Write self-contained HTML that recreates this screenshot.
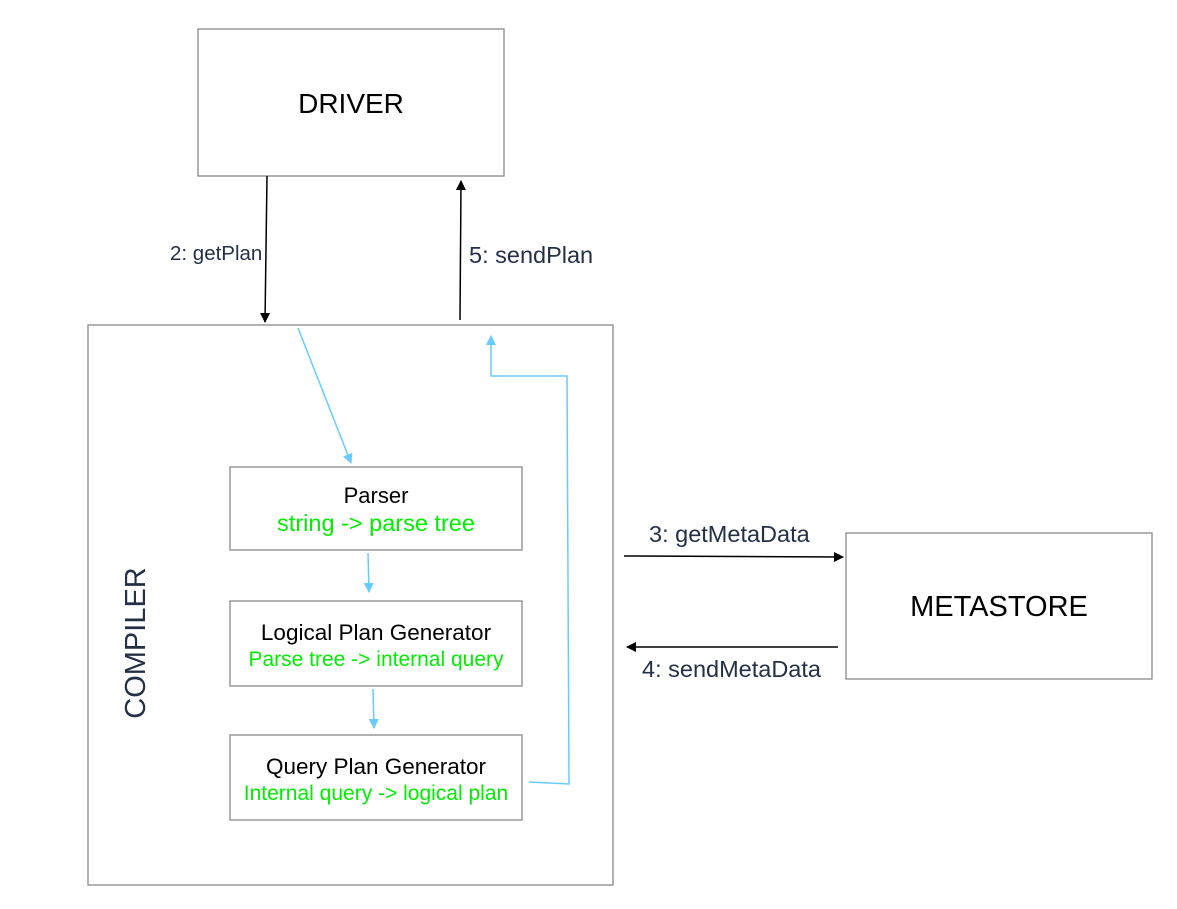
<!DOCTYPE html>
<html><head><meta charset="utf-8"><style>
html,body{margin:0;padding:0;background:#fff;}
svg{display:block;}
text{font-family:"Liberation Sans",Arial,sans-serif;}
</style></head><body>
<svg width="1177" height="909" viewBox="0 0 1177 909" xmlns="http://www.w3.org/2000/svg">
<defs>
<marker id="ab" markerWidth="10" markerHeight="10" refX="9" refY="5" orient="auto" markerUnits="userSpaceOnUse"><path d="M0,0 L10,5 L0,10 Z" fill="#000"/></marker>
<marker id="ac" markerWidth="10" markerHeight="10" refX="9" refY="5" orient="auto" markerUnits="userSpaceOnUse"><path d="M0,0 L10,5 L0,10 Z" fill="#66ccff"/></marker>
</defs>
<g fill="#fff" stroke="#888" stroke-width="1.3">
<rect x="198" y="29" width="306" height="147"/>
<rect x="88" y="325" width="525" height="560"/>
<rect x="846" y="533" width="306" height="146"/>
<rect x="230" y="467" width="292" height="83"/>
<rect x="230" y="601" width="292" height="85"/>
<rect x="230" y="735" width="292" height="85"/>
</g>
<text x="351" y="113" font-size="28" text-anchor="middle" fill="#000">DRIVER</text>
<text x="999" y="616" font-size="29" text-anchor="middle" fill="#000">METASTORE</text>
<text transform="translate(145,643) rotate(-90)" font-size="29" text-anchor="middle" fill="#233047">COMPILER</text>
<text x="376" y="503" font-size="22" text-anchor="middle" fill="#000">Parser</text>
<text x="376" y="531" font-size="23.5" text-anchor="middle" fill="#00ee00">string -&gt; parse tree</text>
<text x="376" y="640" font-size="22.5" text-anchor="middle" fill="#000">Logical Plan Generator</text>
<text x="376" y="666" font-size="21" text-anchor="middle" fill="#00ee00">Parse tree -&gt; internal query</text>
<text x="376" y="774" font-size="22.5" text-anchor="middle" fill="#000">Query Plan Generator</text>
<text x="376" y="800" font-size="21" text-anchor="middle" fill="#00ee00">Internal query -&gt; logical plan</text>
<g stroke="#000" stroke-width="1.5" fill="none">
<line x1="267" y1="176" x2="265" y2="322" marker-end="url(#ab)"/>
<line x1="460" y1="320" x2="461" y2="181" marker-end="url(#ab)"/>
<line x1="624" y1="556" x2="843" y2="557" marker-end="url(#ab)"/>
<line x1="838" y1="647" x2="627" y2="647" marker-end="url(#ab)"/>
</g>
<g fill="#233047">
<text x="170" y="260" font-size="20.5">2: getPlan</text>
<text x="469" y="263" font-size="23.5">5: sendPlan</text>
<text x="649" y="542" font-size="23.5">3: getMetaData</text>
<text x="642" y="677" font-size="23.5">4: sendMetaData</text>
</g>
<g stroke="#66ccff" stroke-width="1.5" fill="none">
<line x1="298" y1="328" x2="351" y2="463" marker-end="url(#ac)"/>
<line x1="368" y1="553" x2="369" y2="592" marker-end="url(#ac)"/>
<line x1="373" y1="689" x2="374" y2="728" marker-end="url(#ac)"/>
<polyline points="529,782 569,784 567,376 491,376 491,336" marker-end="url(#ac)"/>
</g>
</svg>
</body></html>
